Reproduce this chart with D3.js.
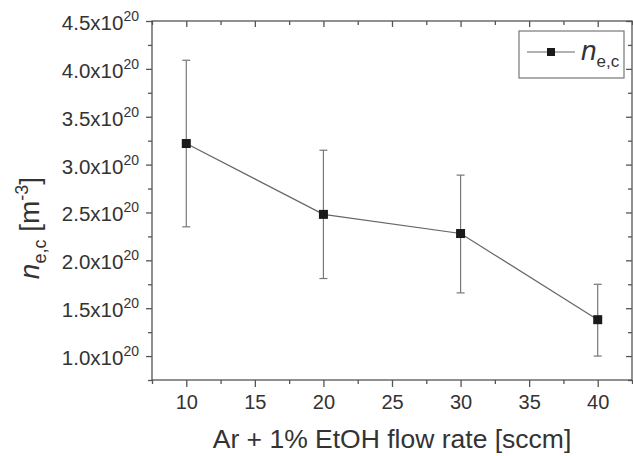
<!DOCTYPE html>
<html>
<head>
<meta charset="utf-8">
<script src="https://cdn.jsdelivr.net/npm/d3@7"></script>
<style>
  body { margin: 0; background: #fff; }
  svg { font-family: "Liberation Sans", Arial, sans-serif; }
</style>
</head>
<body>
<div id="chart"></div>
<script>
// flow rate [sccm]
const flow = [10, 20, 30, 40];
// electron density in units of 1e20 m^-3
const density = [3.22, 2.48, 2.28, 1.38];
const errUp = [0.87, 0.67, 0.61, 0.37];
const errDown = [0.87, 0.67, 0.62, 0.38];
const xTicks = [10, 15, 20, 25, 30, 35, 40];
const yTicks = [1.0, 1.5, 2.0, 2.5, 3.0, 3.5, 4.0, 4.5];

const width = 633, height = 456;
const margin = {left: 152, right: 1, top: 21, bottom: 76};
const axisColor = '#555';

function draw_chart() {
    let svg = d3.select('#chart').append('svg')
        .attr('width', width)
        .attr('height', height);

    let x = d3.scaleLinear().domain([7.5, 42.5]).range([margin.left, width - margin.right]);
    let y = d3.scaleLinear().domain([0.75, 4.5]).range([height - margin.bottom, margin.top]);

    let xMinor = d3.range(7.5, 42.51, 2.5).filter(v => v % 5 !== 0);
    let yMinor = d3.range(0.75, 4.5, 0.5);

    // frame lines
    let x0 = x.range()[0], x1 = x.range()[1], y0 = y.range()[0], y1 = y.range()[1];
    svg.append('rect')
        .attr('x', x0).attr('y', y1)
        .attr('width', x1 - x0).attr('height', y0 - y1)
        .attr('fill', 'none')
        .attr('stroke', axisColor)
        .attr('stroke-width', 1.3);

    // bottom axis
    let bottom = svg.append('g').attr('transform', `translate(0,${y0})`);
    bottom.call(d3.axisBottom(x).tickValues(xTicks).tickSize(7).tickFormat(d3.format('d')));
    bottom.append('g').call(d3.axisBottom(x).tickValues(xMinor).tickSize(4).tickFormat(''));
    // top axis, ticks inward
    let top = svg.append('g').attr('transform', `translate(0,${y1})`);
    top.call(d3.axisBottom(x).tickValues(xTicks).tickSize(6).tickFormat(''));
    top.append('g').call(d3.axisBottom(x).tickValues(xMinor).tickSize(4).tickFormat(''));

    // left axis
    let left = svg.append('g').attr('transform', `translate(${x0},0)`);
    left.call(d3.axisLeft(y).tickValues(yTicks).tickSize(6).tickFormat(''));
    left.append('g').call(d3.axisLeft(y).tickValues(yMinor).tickSize(4).tickFormat(''));
    // right axis, ticks inward
    let right = svg.append('g').attr('transform', `translate(${x1},0)`);
    right.call(d3.axisLeft(y).tickValues(yTicks).tickSize(6).tickFormat(''));
    right.append('g').call(d3.axisLeft(y).tickValues(yMinor).tickSize(4).tickFormat(''));

    svg.selectAll('.domain').remove();
    svg.selectAll('.tick line').attr('stroke', axisColor).attr('stroke-width', 1.3);

    bottom.selectAll('.tick text')
        .attr('fill', '#333')
        .attr('font-size', 20)
        .attr('dy', '0.95em')
        .attr('font-family', '"Liberation Sans", Arial, sans-serif');

    // y tick labels with superscript exponent
    let ylab = svg.append('g').selectAll('text')
        .data(yTicks)
        .enter().append('text')
        .attr('x', x0 - 13)
        .attr('y', d => y(d) + 9)
        .attr('text-anchor', 'end')
        .attr('fill', '#333')
        .attr('font-size', 20.5);
    ylab.append('tspan').text(d => d.toFixed(1) + 'x10');
    ylab.append('tspan')
        .attr('font-size', 14)
        .attr('dy', -9)
        .text('20');

    // error bars
    let bars = svg.append('g').selectAll('g')
        .data(flow)
        .enter().append('g')
        .attr('stroke', '#777')
        .attr('stroke-width', 1.2);
    bars.append('line')
        .attr('x1', d => x(d)).attr('x2', d => x(d))
        .attr('y1', (d, i) => y(density[i] + errUp[i]))
        .attr('y2', (d, i) => y(density[i] - errDown[i]));
    bars.append('line')
        .attr('x1', d => x(d) - 4).attr('x2', d => x(d) + 4)
        .attr('y1', (d, i) => y(density[i] + errUp[i]))
        .attr('y2', (d, i) => y(density[i] + errUp[i]));
    bars.append('line')
        .attr('x1', d => x(d) - 4).attr('x2', d => x(d) + 4)
        .attr('y1', (d, i) => y(density[i] - errDown[i]))
        .attr('y2', (d, i) => y(density[i] - errDown[i]));

    // connecting line
    let line = d3.line()
        .x((d, i) => x(flow[i]))
        .y(d => y(d));
    svg.append('path')
        .datum(density)
        .attr('d', line)
        .attr('fill', 'none')
        .attr('stroke', '#666')
        .attr('stroke-width', 1.2);

    // markers
    svg.append('g').selectAll('rect')
        .data(density)
        .enter().append('rect')
        .attr('x', (d, i) => x(flow[i]) - 4.5)
        .attr('y', d => y(d) - 4.5)
        .attr('width', 9).attr('height', 9)
        .attr('fill', '#1a1a1a');

    // x axis title
    svg.append('text')
        .attr('x', 392)
        .attr('y', 448)
        .attr('text-anchor', 'middle')
        .attr('fill', '#333')
        .attr('font-size', 26.5)
        .text('Ar + 1% EtOH flow rate [sccm]');

    // y axis title
    let yt = svg.append('text')
        .attr('transform', 'translate(39,228) rotate(-90)')
        .attr('text-anchor', 'middle')
        .attr('fill', '#333')
        .attr('font-size', 28);
    yt.append('tspan').attr('font-style', 'italic').text('n');
    yt.append('tspan').attr('font-size', 18).attr('dy', 7).text('e,c');
    yt.append('tspan').attr('dy', -7).text(' [m');
    yt.append('tspan').attr('font-size', 18).attr('dy', -11).text('-3');
    yt.append('tspan').attr('dy', 11).text(']');

    // legend
    let lg = svg.append('g').attr('transform', 'translate(519,31)');
    lg.append('rect')
        .attr('width', 105).attr('height', 47)
        .attr('fill', '#fff')
        .attr('stroke', '#777')
        .attr('stroke-width', 1.2);
    lg.append('line')
        .attr('x1', 8).attr('x2', 56)
        .attr('y1', 21).attr('y2', 21)
        .attr('stroke', '#666').attr('stroke-width', 1.2);
    lg.append('rect')
        .attr('x', 28).attr('y', 17).attr('width', 8).attr('height', 8)
        .attr('fill', '#1a1a1a');
    let lt = lg.append('text')
        .attr('x', 62).attr('y', 29)
        .attr('fill', '#333')
        .attr('font-size', 28);
    lt.append('tspan').attr('font-style', 'italic').text('n');
    lt.append('tspan').attr('font-size', 17).attr('dy', 7).text('e,c');
}

draw_chart();
</script>
</body>
</html>
